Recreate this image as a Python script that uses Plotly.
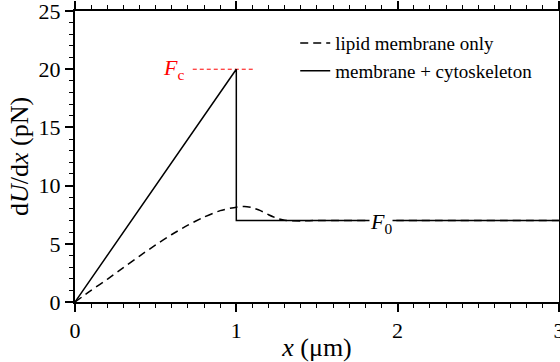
import plotly.graph_objects as go

# Force curves dU/dx versus tether extension x
x_cyto = [0.0, 1.0, 1.0, 3.0]
f_cyto = [0.0, 20.0, 7.0, 7.0]

x_lipid = [0.0, 0.1, 0.2, 0.3, 0.4, 0.5, 0.6, 0.7, 0.8, 0.9, 1.0, 1.05,
           1.1, 1.15, 1.2, 1.25, 1.3, 1.4, 1.5, 2.0, 3.0]
f_lipid = [0.0, 1.0, 1.95, 2.95, 3.95, 4.9, 5.8, 6.6, 7.3, 7.85, 8.15, 8.2,
           8.1, 7.85, 7.5, 7.2, 7.02, 6.97, 7.0, 7.0, 7.0]

x_ticks = [0, 1, 2, 3]
y_ticks = [0, 5, 10, 15, 20, 25]

F_c = 20.0
F_0 = 7.0
fc_line_x = [0.73, 1.12]

FONT = "Times New Roman, Liberation Serif, serif"

fig = go.Figure()

fig.add_trace(go.Scatter(
    x=fc_line_x, y=[F_c, F_c], mode="lines",
    line=dict(color="#ff0000", width=1, dash="4px,3px"),
    showlegend=False, hoverinfo="skip"))

fig.add_trace(go.Scatter(
    x=x_lipid, y=f_lipid, mode="lines", name="lipid membrane only",
    line=dict(color="black", width=1.5, dash="8px,5px", shape="spline", smoothing=0.6)))

fig.add_trace(go.Scatter(
    x=x_cyto, y=f_cyto, mode="lines", name="membrane + cytoskeleton",
    line=dict(color="black", width=1.5)))

fig.add_annotation(x=0.61, y=F_c, text="<i>F</i><sub>c</sub>", showarrow=False,
                   font=dict(family=FONT, size=22, color="#ff0000"), yshift=0)
fig.add_annotation(x=1.9, y=F_0, text="<i>F</i><sub>0</sub>", showarrow=False,
                   font=dict(family=FONT, size=22, color="black"),
                   bgcolor="white", borderpad=0, yshift=-2)

axis_common = dict(
    showline=True, linecolor="black", linewidth=2, mirror="ticks",
    ticks="outside", ticklen=8, tickwidth=1.5, tickcolor="black",
    showgrid=False, zeroline=False, ticklabeloverflow="allow",
    tickfont=dict(family=FONT, size=22, color="black"),
)

fig.update_xaxes(
    range=[0, 3.0005], tickvals=x_ticks, ticktext=[str(v) for v in x_ticks],
    minor=dict(dtick=0.1, ticks="outside", ticklen=4, tickwidth=1, tickcolor="black", showgrid=False),
    title=dict(text="<i>x</i> (μm)", font=dict(family=FONT, size=26, color="black"), standoff=2),
    **axis_common)

fig.update_yaxes(
    range=[0, 25.002], tickvals=y_ticks, ticktext=[str(v) for v in y_ticks],
    minor=dict(dtick=1, ticks="outside", ticklen=4, tickwidth=1, tickcolor="black", showgrid=False),
    title=dict(text="d<i>U</i>/d<i>x</i> (pN)", font=dict(family=FONT, size=26, color="black"), standoff=2),
    **axis_common)

fig.update_layout(
    width=560, height=362,
    margin=dict(l=75, r=1, t=11, b=60, autoexpand=False),
    plot_bgcolor="white", paper_bgcolor="white",
    legend=dict(x=0.455, y=0.955, xanchor="left", yanchor="top",
                font=dict(family=FONT, size=19, color="black"),
                bgcolor="rgba(0,0,0,0)", tracegroupgap=0),
    showlegend=True,
)

fig.write_html("out.html")
